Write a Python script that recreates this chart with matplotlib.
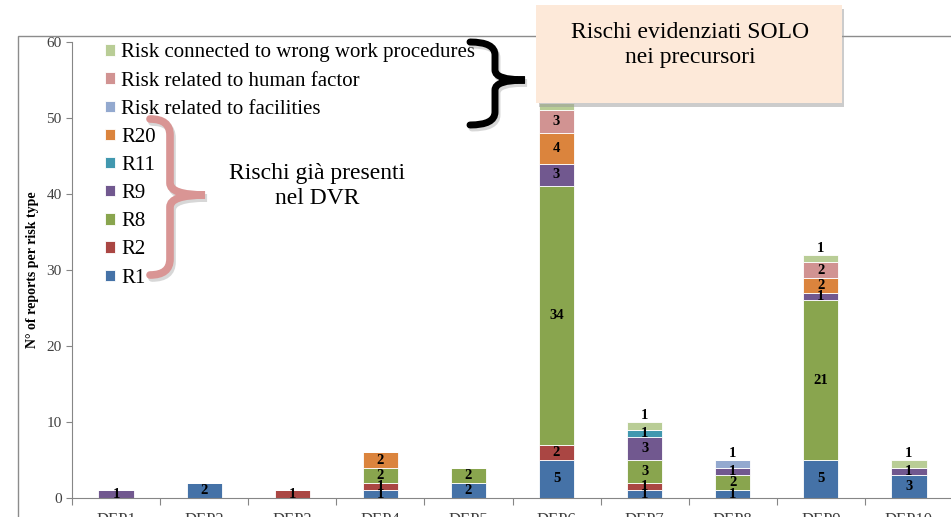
import numpy as np
import matplotlib.pyplot as plt
from matplotlib.patches import Rectangle, PathPatch
from matplotlib.path import Path

plt.rcParams['font.family'] = ['Liberation Serif', 'DejaVu Serif']

# Dati
deps = ['DEP1', 'DEP2', 'DEP3', 'DEP4', 'DEP5', 'DEP6', 'DEP7', 'DEP8', 'DEP9', 'DEP10']
series_names = ['R1', 'R2', 'R8', 'R9', 'R11', 'R20',
                'Risk related to facilities', 'Risk related to human factor',
                'Risk connected to wrong work procedures']
r1 = [0, 2, 0, 1, 2, 5, 1, 1, 5, 3]
r2 = [0, 0, 1, 1, 0, 2, 1, 0, 0, 0]
r8 = [0, 0, 0, 2, 2, 34, 3, 2, 21, 0]
r9 = [1, 0, 0, 0, 0, 3, 3, 1, 1, 1]
r11 = [0, 0, 0, 0, 0, 0, 1, 0, 0, 0]
r20 = [0, 0, 0, 2, 0, 4, 0, 0, 2, 0]
facilities = [0, 0, 0, 0, 0, 0, 0, 1, 0, 0]
human = [0, 0, 0, 0, 0, 3, 0, 0, 2, 0]
wrong_proc = [0, 0, 0, 0, 0, 1, 1, 0, 1, 1]
values = [r1, r2, r8, r9, r11, r20, facilities, human, wrong_proc]
colors = ['#4572A7', '#AA4643', '#89A54E', '#71588F', '#4198AF', '#DB843D',
          '#93A9CF', '#D19392', '#B9CD96']
# etichette spostate sopra la barra
label_above = ['Risk related to facilities', 'Risk connected to wrong work procedures']

W, H = 951, 517
fig = plt.figure(figsize=(W / 100, H / 100), dpi=100)


def px(x, y):
    return (x / W, 1 - y / H)


ax = fig.add_axes([72 / W, 19 / H, 881 / W, 456 / H])
x = np.arange(len(deps))
bottom = np.zeros(len(deps))
handles = []
for name, vals, c in zip(series_names, values, colors):
    vals = np.array(vals, dtype=float)
    bars = ax.bar(x, vals, 0.4, bottom=bottom, color=c, edgecolor='white',
                  linewidth=0.6, label=name, zorder=2)
    handles.append(bars)
    for xi, v, b in zip(x, vals, bottom):
        if v > 0:
            yl = b + v + 0.85 if name in label_above else b + v / 2
            ax.text(xi, yl, '%d' % v, ha='center', va='center', fontsize=10.5,
                    fontweight='bold', color='black', zorder=3)
    bottom = bottom + vals

ax.set_xlim(-0.5, len(deps) - 0.5)
ax.set_ylim(0, 60)
ax.set_yticks(range(0, 61, 10))
ax.set_xticks(np.arange(len(deps) + 1) - 0.5)
ax.set_xticklabels([])
ax.set_xticks(x, minor=True)
ax.set_xticklabels(deps, minor=True)
ax.tick_params(axis='x', which='major', direction='out', length=5, color='#868686')
ax.tick_params(axis='x', which='minor', length=0, pad=10, labelsize=12, labelcolor='#404040')
ax.tick_params(axis='y', direction='out', length=4, color='#868686', labelsize=11,
               labelcolor='#404040')
for s in ['top', 'right']:
    ax.spines[s].set_visible(False)
for s in ['left', 'bottom']:
    ax.spines[s].set_color('#868686')
ax.set_ylabel('N° of reports per risk type', fontsize=10, fontweight='bold', labelpad=5)

leg = ax.legend(handles[::-1], series_names[::-1], loc='upper left',
                bbox_to_anchor=px(97, 35), bbox_transform=fig.transFigure,
                frameon=False, fontsize=15, handlelength=0.45, handleheight=0.45,
                handletextpad=0.3, labelspacing=0.44, borderaxespad=0)

# cornice del grafico
fig.patches.append(Rectangle(px(18, 600), 2, (600 - 36) / H, transform=fig.transFigure,
                             fill=False, edgecolor='#8c8c8c', linewidth=1, zorder=0))


def brace(pts, color, lw):
    verts = [px(*p) for p in pts]
    codes = [Path.MOVETO, Path.CURVE3, Path.CURVE3, Path.LINETO, Path.CURVE3, Path.CURVE3,
             Path.CURVE3, Path.CURVE3, Path.LINETO, Path.CURVE3, Path.CURVE3]
    sh = [(px(p[0] + 2, p[1] + 3)) for p in pts]
    fig.patches.append(PathPatch(Path(sh, codes), fill=False, edgecolor='#b0b0b0',
                                 lw=lw, alpha=0.5, transform=fig.transFigure,
                                 capstyle='round', zorder=4))
    fig.patches.append(PathPatch(Path(verts, codes), fill=False, edgecolor=color, lw=lw,
                                 transform=fig.transFigure, capstyle='round', zorder=5))


brace([(150, 119), (170, 119), (170, 135), (170, 183), (170, 195), (205, 195),
       (170, 195), (170, 207), (170, 259), (170, 275), (150, 275)], '#D99594', 5.5)
brace([(470, 42), (495, 42), (495, 55), (495, 70), (495, 80), (525, 80),
       (495, 80), (495, 90), (495, 112), (495, 125), (470, 125)], 'black', 5)

fig.text(317 / W, 1 - 186 / H, 'Rischi già presenti\nnel DVR', ha='center', va='center',
         fontsize=17, linespacing=1.25)

# riquadro
fig.patches.append(Rectangle(px(539, 107), 305 / W, 98 / H, transform=fig.transFigure,
                             facecolor='#9a9a9a', alpha=0.5, edgecolor='none', zorder=6))
fig.patches.append(Rectangle(px(536, 103), 306 / W, 98 / H, transform=fig.transFigure,
                             facecolor='#FDE9D9', edgecolor='none', zorder=7))
fig.text(690 / W, 1 - 45 / H, 'Rischi evidenziati SOLO\nnei precursori', ha='center',
         va='center', fontsize=17, linespacing=1.3, zorder=8)

fig.savefig('out.png', dpi=100)
